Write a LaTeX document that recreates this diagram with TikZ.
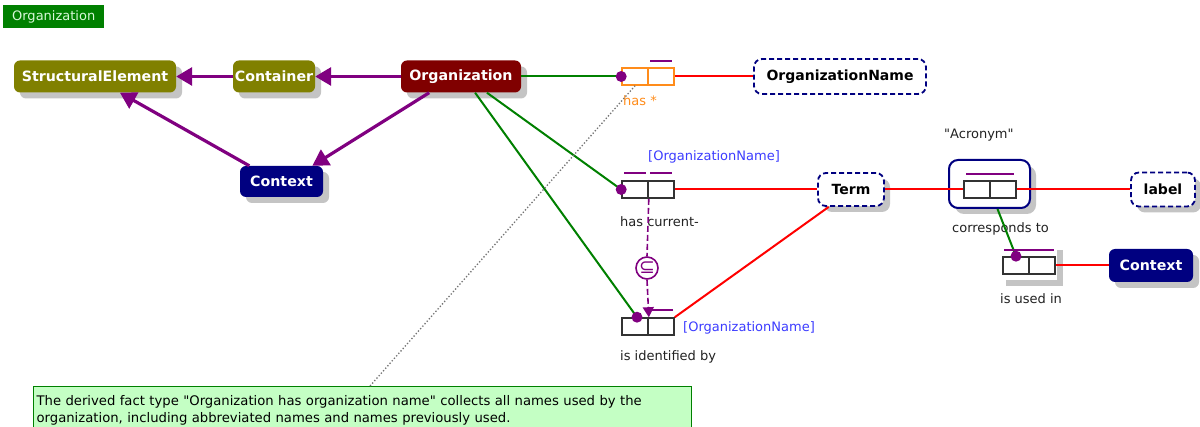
\documentclass[tikz,border=0pt]{standalone}
\usepackage{fontspec}
\setmainfont{DejaVu Sans}[Ligatures=TeXOff]
\usetikzlibrary{arrows.meta,shadows,calc}
\definecolor{olv}{HTML}{808000}
\definecolor{drd}{HTML}{800000}
\definecolor{nvy}{HTML}{000080}
\definecolor{prp}{HTML}{800080}
\definecolor{grn}{HTML}{008000}
\definecolor{orng}{HTML}{FF8C1A}
\definecolor{lblue}{HTML}{3C3CFF}
\definecolor{notefill}{HTML}{C4FFC4}
\definecolor{shd}{HTML}{C4C4C4}
\definecolor{titletext}{HTML}{D8F8D8}
\definecolor{labtext}{HTML}{222222}
\tikzset{
  shadowed/.style={drop shadow={shadow xshift=6pt, shadow yshift=-6pt, fill=shd, opacity=1}},
  ent/.style={rounded corners=6pt, inner sep=0pt, text=white, shadowed,
    font=\bfseries\fontsize{14.2}{16}\selectfont},
  val/.style={draw=nvy, dash pattern=on 5pt off 3pt, line width=1.8pt, fill=white,
    rounded corners=8pt, inner sep=0pt, text=black, font=\bfseries\fontsize{14}{16}\selectfont},
  objbox/.style={draw=nvy, line width=2pt, rounded corners=9pt, fill=white, inner sep=0pt, shadowed},
  cell/.style={draw=black!80, line width=1.6pt, fill=white, minimum width=26pt,
    minimum height=17pt, inner sep=0pt},
  lab/.style={inner sep=0pt, text=labtext, font=\fontsize{13}{15}\selectfont},
  subarrow/.style={draw=prp, line width=3.2pt, -{Triangle[length=16pt,width=18pt]}},
  gl/.style={draw=grn, line width=2pt},
  rl/.style={draw=red, line width=2pt},
  uc/.style={draw=prp, line width=1.6pt},
  sdash/.style={draw=prp, line width=1.6pt, dash pattern=on 6pt off 3pt},
  roledot/.style={fill=prp}
}
\begin{document}
\begin{tikzpicture}[x=1pt,y=-1pt]
\useasboundingbox (0,0) rectangle (1200,427);
\fill[white] (0,0) rectangle (1200,427);

% title
\node[fill=grn, text=titletext, anchor=north west, minimum width=101pt, minimum height=23pt,
  inner sep=0pt, font=\fontsize{13}{15}\selectfont] (title) at (3,5) {Organization};

% entity types
\node[ent, fill=olv, minimum width=162pt, minimum height=32pt] (se) at (95,76.5) {StructuralElement};
\node[ent, fill=olv, minimum width=82pt, minimum height=32pt] (cont) at (274,76.5) {Container};
\node[ent, fill=drd, minimum width=120pt, minimum height=32pt] (orgn) at (461,76.5) {Organization};
\node[ent, fill=nvy, minimum width=83pt, minimum height=31pt] (ctxa) at (281.5,181.5) {Context};
\node[ent, fill=nvy, minimum width=84pt, minimum height=33pt] (ctxb) at (1151,265.5) {Context};

% value types
\node[val, minimum width=172pt, minimum height=35pt] (oname) at (840,76.5) {OrganizationName};
\node[val, shadowed, minimum width=66pt, minimum height=33pt] (term) at (851,189.5) {Term};
\node[val, shadowed, minimum width=64pt, minimum height=34pt] (lbl) at (1163,189.5) {label};

% objectified fact type
\node[objbox, minimum width=81pt, minimum height=48pt] (acr) at (989.5,184) {};

% shadow of "is used in"
\fill[shd] (1006,250) rectangle (1063,286);
\fill[white] (1000,244) rectangle (1057,280);

% fact type cells
\node[cell, draw=orng] (f1a) at (635,76.5) {};
\node[cell, draw=orng] (f1b) at (661,76.5) {};
\node[cell] (f2a) at (635,189.5) {};
\node[cell] (f2b) at (661,189.5) {};
\node[cell] (f3a) at (635,326.5) {};
\node[cell] (f3b) at (661,326.5) {};
\node[cell] (f4a) at (977,189.5) {};
\node[cell] (f4b) at (1003,189.5) {};
\node[cell] (f5a) at (1016,265.5) {};
\node[cell] (f5b) at (1042,265.5) {};

% note
\node[draw=grn, line width=1.2pt, fill=notefill, anchor=north west, text width=652pt,
  inner xsep=3pt, inner ysep=3pt, align=left, minimum height=48pt, text=black,
  font=\fontsize{13.2}{17}\selectfont] (note) at (33,386)
  {The derived fact type "Organization has organization name" collects all names used by the\\organization, including abbreviated names and names previously used.};

% subset constraint
\node[circle, draw=prp, line width=1.6pt, fill=white, minimum size=22pt, inner sep=0pt,
  text=prp, font=\fontsize{19}{19}\selectfont] (subc) at (647,268) {⊆};

% labels
\node[lab, text=orng, anchor=west] (l1) at (623,101) {has *};
\node[lab, text=lblue, anchor=west] (l2) at (648,157) {[OrganizationName]};
\node[lab, anchor=west] (l3) at (620,222) {has current-};
\node[lab, anchor=west] (l4) at (620,357) {is identified by};
\node[lab, text=lblue, anchor=west] (l5) at (683,328) {[OrganizationName]};
\node[lab, anchor=west] (l6) at (952,229) {corresponds to};
\node[lab, anchor=west] (l7) at (1000,299) {is used in};
\node[lab, anchor=west] (l8) at (944,135) {"Acronym"};

% coordinates
\coordinate (d3) at ($(f3a.north)+(2,0)$);
\coordinate (notetop) at ($(note.north west)+(337,0)$);

% subtype connectors
\draw[subarrow] (cont.west) -- (se.east);
\draw[subarrow] (orgn.west) -- (cont.east);
\draw[subarrow] (ctxa.154) -- (se.-33);
\draw[subarrow] (orgn.207) -- (ctxa.27);

% role connectors
\draw[gl] (orgn.east) -- (f1a.west);
\draw[gl] (orgn.-32) -- (f2a.west);
\draw[gl] (orgn.-49) -- (d3);
\draw[rl] (f1b.east) -- (oname.west);
\draw[rl] (f2b.east) -- (term.west);
\draw[rl] (f3b.north east) -- (term.218);
\draw[rl] (term.east) -- (f4a.west);
\draw[rl] (f4b.east) -- (lbl.west);
\draw[gl] ($(acr.south)+(8,0)$) -- (f5a.north);
\draw[rl] (f5b.east) -- (ctxb.west);

% subset constraint connectors
\draw[sdash] (f2a.south east) -- (subc.north);
\draw[sdash, -{Triangle[length=10pt,width=11pt]}] (subc.south) -- (f3a.north east);

% note connector
\draw[black!55, dotted, line width=1.3pt] (notetop) -- (f1a.south);

% uniqueness bars
\draw[uc] ($(f1b.north west)+(3,-6)$) -- ($(f1b.north east)+(-3,-6)$);
\draw[uc] ($(f2a.north west)+(3,-7)$) -- ($(f2a.north east)+(-3,-7)$);
\draw[uc] ($(f2b.north west)+(3,-7)$) -- ($(f2b.north east)+(-3,-7)$);
\draw[uc] ($(f3b.north west)+(0,-7)$) -- ($(f3b.north east)+(-2,-7)$);
\draw[uc] ($(f4a.north west)+(3,-6)$) -- ($(f4b.north east)+(-3,-6)$);
\draw[uc] ($(f5a.north west)+(2,-6)$) -- ($(f5b.north east)+(-2,-6)$);

% role dots
\fill[roledot] (f1a.west) circle (5.5pt);
\fill[roledot] (f2a.west) circle (5.5pt);
\fill[roledot] (d3) circle (5.5pt);
\fill[roledot] (f5a.north) circle (5.5pt);
\end{tikzpicture}
\end{document}
